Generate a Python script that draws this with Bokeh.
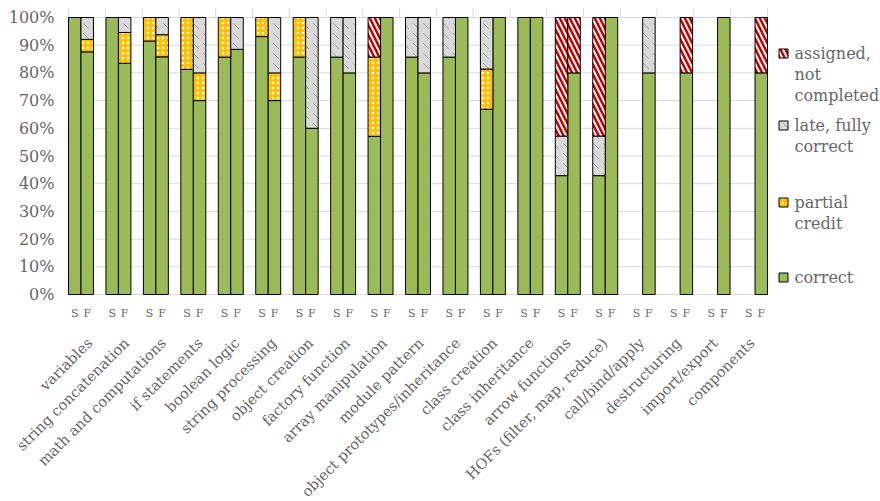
import numpy as np
from bokeh.plotting import figure
from bokeh.models import ColumnDataSource, Range1d
from bokeh.core.properties import value
from bokeh.embed import file_html
from bokeh.resources import INLINE

# ---------------------------------------------------------------- data
categories = [
    "variables", "string concatenation", "math and computations", "if statements",
    "boolean logic", "string processing", "object creation", "factory function",
    "array manipulation", "module pattern", "object prototypes/inheritance",
    "class creation", "class inheritance", "arrow functions",
    "HOFs (filter, map, reduce)", "call/bind/apply", "destructuring",
    "import/export", "components",
]
cohorts = ["S", "F"]
y_ticks = [0.0, 0.1, 0.2, 0.3, 0.4, 0.5, 0.6, 0.7, 0.8, 0.9, 1.0]
y_tick_labels = ["0%", "10%", "20%", "30%", "40%", "50%", "60%", "70%", "80%", "90%", "100%"]

# percentages per category, cohort S
correct_S = [100, 100, 91.5, 81.3, 85.7, 93.1, 85.7, 85.7, 57.1, 85.7, 85.7, 66.9, 100, 42.9, 42.9, 0, 0, 0, 0]
partial_S = [0, 0, 8.5, 18.7, 14.3, 6.9, 14.3, 0, 28.6, 0, 0, 14.5, 0, 0, 0, 0, 0, 0, 0]
late_S = [0, 0, 0, 0, 0, 0, 0, 14.3, 0, 14.3, 14.3, 18.6, 0, 14.3, 14.3, 0, 0, 0, 0]
missing_S = [0, 0, 0, 0, 0, 0, 0, 0, 14.3, 0, 0, 0, 0, 42.8, 42.8, 0, 0, 0, 0]

# percentages per category, cohort F
correct_F = [87.6, 83.5, 85.8, 70, 88.5, 70, 60, 80, 100, 80, 100, 100, 100, 80, 100, 80, 80, 100, 80]
partial_F = [4.5, 11.1, 8.0, 10, 0, 10, 0, 0, 0, 0, 0, 0, 0, 0, 0, 0, 0, 0, 0]
late_F = [7.9, 5.4, 6.2, 20, 11.5, 20, 40, 20, 0, 20, 0, 0, 0, 0, 0, 20, 0, 0, 0]
missing_F = [0, 0, 0, 0, 0, 0, 0, 0, 0, 0, 0, 0, 0, 20, 0, 0, 20, 0, 20]

series_names = ["correct", "partial credit", "late, fully correct", "assigned, not completed"]
series_S = [correct_S, partial_S, late_S, missing_S]
series_F = [correct_F, partial_F, late_F, missing_F]

legend_lines = [["assigned,", "not", "completed"], ["late, fully", "correct"], ["partial", "credit"], ["correct"]]

# ---------------------------------------------------------------- layout
W, H = 880, 501
LEFT_PX = 68          # left edge of the bar area
N_SLOTS = 56          # S, F, gap per category (no gap after the last)
SLOT_PX = 699 / N_SLOTS
TOP_PX = 17           # pixel row of 100 %
ZERO_PX = 294         # pixel row of 0 %
UNIT_PX = ZERO_PX - TOP_PX

TEXT_FONT = value("DejaVu Serif")
TEXT_COLOR = "#666666"
GRID_COLOR = "#d9d9d9"


def xd(px):
    return (px - LEFT_PX) / SLOT_PX


def yd(py):
    return 1 - (py - TOP_PX) / UNIT_PX


styles = {
    "correct": dict(fill_color="#9bbb59"),
    "partial credit": dict(fill_color="#ffc000", hatch_pattern=".", hatch_color="white",
                           hatch_scale=5, hatch_weight=2),
    "late, fully correct": dict(fill_color="#d9d9d9", hatch_pattern="`", hatch_color="#a0a0a0",
                                hatch_scale=10, hatch_weight=1),
    "assigned, not completed": dict(fill_color="#c00000", hatch_pattern="\\", hatch_color="white",
                                    hatch_scale=10, hatch_weight=2),
}

# the frame covers the whole canvas; everything is placed in data space
p = figure(
    width=W, height=H,
    x_range=Range1d(xd(0), xd(W)), y_range=Range1d(yd(H), yd(0)),
    output_backend="svg", toolbar_location=None,
    x_axis_location=None, y_axis_location=None,
    min_border=0,
)
p.outline_line_color = None
p.grid.visible = False
p.background_fill_color = "white"
p.border_fill_color = "white"

# horizontal gridlines limited to the bar area
p.segment(x0=[0] * len(y_ticks), x1=[N_SLOTS] * len(y_ticks), y0=y_ticks, y1=y_ticks,
          line_color=GRID_COLOR, line_width=1)
# short category ticks above the top gridline
n_cat = len(categories)
cat_edges = [k * N_SLOTS / n_cat for k in range(n_cat + 1)]
p.segment(x0=cat_edges, x1=cat_edges, y0=[1.0] * len(cat_edges), y1=[yd(8)] * len(cat_edges),
          line_color=GRID_COLOR, line_width=1)

# percent tick labels
p.text(x=[xd(54)] * len(y_ticks), y=y_ticks, text=y_tick_labels, text_font=TEXT_FONT,
       text_font_size="16px", text_color=TEXT_COLOR, text_align="right", text_baseline="middle")

# stacked bars
for si, name in enumerate(series_names):
    xs, bottoms, tops = [], [], []
    for ci in range(n_cat):
        for k, series in enumerate([series_S, series_F]):
            val = series[si][ci]
            if val <= 0:
                continue
            base = sum(series[j][ci] for j in range(si))
            xs.append(ci * 3 + k + 0.5)
            bottoms.append(base / 100)
            tops.append((base + val) / 100)
    src = ColumnDataSource(dict(x=xs, bottom=bottoms, top=tops))
    p.vbar(x="x", width=1, bottom="bottom", top="top", source=src,
           line_color="black", line_width=1, **styles[name])

# S / F labels under each bar
sf_x = [ci * 3 + k + 0.5 for ci in range(n_cat) for k in range(2)]
sf_text = [c for _ in range(n_cat) for c in cohorts]
p.text(x=sf_x, y=[yd(313)] * len(sf_x), text=sf_text, text_font=TEXT_FONT,
       text_font_size="11px", text_color=TEXT_COLOR, text_align="center", text_baseline="middle")

# rotated category labels
cat_x = [xd(LEFT_PX + (k + 0.5) * N_SLOTS * SLOT_PX / n_cat + 3) for k in range(n_cat)]
p.text(x=cat_x, y=[yd(340)] * n_cat, text=categories, text_font=TEXT_FONT,
       text_font_size="14.5px", text_color=TEXT_COLOR, angle=45, angle_units="deg",
       text_align="right", text_baseline="middle")

# legend
legend_order = ["assigned, not completed", "late, fully correct", "partial credit", "correct"]
legend_y_px = [53, 125, 202, 277]
for name, ypx, lines in zip(legend_order, legend_y_px, legend_lines):
    p.scatter(x=[xd(783)], y=[yd(ypx)], marker="square", size=9,
              line_color="black", line_width=1, **styles[name])
    p.text(x=[xd(794)] * len(lines), y=[yd(ypx + 21 * i) for i in range(len(lines))],
           text=lines, text_font=TEXT_FONT, text_font_size="16px", text_color=TEXT_COLOR,
           text_align="left", text_baseline="middle")

open("out.html", "w").write(file_html(p, INLINE))
